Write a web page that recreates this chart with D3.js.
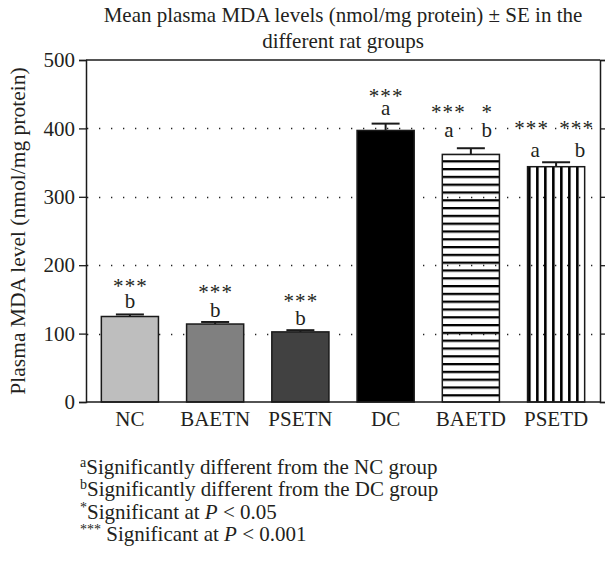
<!DOCTYPE html>
<html>
<head>
<meta charset="utf-8">
<script src="https://cdn.jsdelivr.net/npm/d3@7"></script>
<style>
  html, body { margin: 0; padding: 0; background: #fff; }
  svg { display: block; }
  text { font-family: "Liberation Serif", "Times New Roman", serif; fill: #231f20; }
</style>
</head>
<body>
<svg id="chart" width="605" height="571"></svg>
<script>
// ---------- DATA ----------
const categories = ["NC", "BAETN", "PSETN", "DC", "BAETD", "PSETD"];
const meanValues = [125, 114, 102.5, 397, 362, 344];
const seValues = [3, 3, 2.5, 10, 9, 6.5];
const yTicks = [0, 100, 200, 300, 400, 500];
const gridValues = [100, 200, 300, 400];
// annotation groups per bar: stars row and letter row
const starLabels = [["***"], ["***"], ["***"], ["***"], ["***", "*"], ["***", "***"]];
const letterLabels = [["b"], ["b"], ["b"], ["a"], ["a", "b"], ["a", "b"]];
const titleLines = ["Mean plasma MDA levels (nmol/mg protein) \u00B1 SE in the", "different rat groups"];
const yLabel = "Plasma MDA level (nmol/mg protein)";

// ---------- LAYOUT ----------
const FS = 21;
const svg = d3.select("#chart");
const plot = { left: 86, right: 600, top: 60, bottom: 402 };
const x = d3.scaleBand().domain(categories).range([plot.left, plot.right]).paddingInner(0.33).paddingOuter(0.18);
const y = d3.scaleLinear().domain([0, 500]).range([plot.bottom, plot.top]);

const fills = ["#bebebe", "#808080", "#414141", "#000000", "url(#hpat)", "url(#vpat)"];
const ink = "#1a1a1a";

// annotation layout (pixel offsets relative to the error-bar cap / bar centre)
const annLayout = {
  NC:    { letterUp: 6,  starUp: 32, dxL: [0],        dxS: [0] },
  BAETN: { letterUp: 5,  starUp: 33, dxL: [0],        dxS: [0] },
  PSETN: { letterUp: 5,  starUp: 33, dxL: [0],        dxS: [0] },
  DC:    { letterUp: 9,  starUp: 31, dxL: [0],        dxS: [0] },
  BAETD: { letterUp: 11, starUp: 40, dxL: [-22, 16],  dxS: [-23, 16] },
  PSETD: { letterUp: 5,  starUp: 38, dxL: [-21, 24],  dxS: [-25, 20] }
};

// patterns
const defs = svg.append("defs");
const hp = defs.append("pattern").attr("id", "hpat").attr("patternUnits", "userSpaceOnUse")
  .attr("x", 0).attr("y", plot.bottom).attr("width", 8).attr("height", 7.8);
hp.append("rect").attr("x", 0).attr("y", 0).attr("width", 8).attr("height", 2.3).attr("fill", "#000");
const vp = defs.append("pattern").attr("id", "vpat").attr("patternUnits", "userSpaceOnUse")
  .attr("x", x("PSETD") + 0.5).attr("y", 0).attr("width", 8).attr("height", 8);
vp.append("rect").attr("x", 0).attr("y", 0).attr("width", 2.6).attr("height", 8).attr("fill", "#000");

// gridlines (dotted)
svg.append("g").selectAll("line").data(gridValues).join("line")
  .attr("x1", plot.left + 1).attr("x2", plot.right)
  .attr("y1", d => Math.round(y(d)) + 0.5).attr("y2", d => Math.round(y(d)) + 0.5)
  .attr("stroke", "#222").attr("stroke-width", 1.3).attr("stroke-dasharray", "1.3,10.7");

// bars
svg.append("g").selectAll("rect").data(categories).join("rect")
  .attr("x", d => x(d))
  .attr("y", (d, i) => y(meanValues[i]))
  .attr("width", x.bandwidth())
  .attr("height", (d, i) => y(0) - y(meanValues[i]))
  .attr("fill", (d, i) => fills[i])
  .attr("stroke", ink).attr("stroke-width", 1.5);

// error bars
const eg = svg.append("g").attr("stroke", ink).attr("stroke-width", 2);
categories.forEach((c, i) => {
  const cx = x(c) + x.bandwidth() / 2;
  eg.append("line").attr("x1", cx).attr("x2", cx)
    .attr("y1", y(meanValues[i])).attr("y2", y(meanValues[i] + seValues[i]));
  eg.append("line").attr("x1", cx - 14).attr("x2", cx + 14)
    .attr("y1", y(meanValues[i] + seValues[i])).attr("y2", y(meanValues[i] + seValues[i]));
});

// axes
const yAxis = d3.axisLeft(y).tickValues(yTicks).tickSize(7).tickPadding(4);
const gy = svg.append("g").attr("transform", `translate(${plot.left},0)`).call(yAxis);
gy.select(".domain").attr("stroke", ink).attr("stroke-width", 1.5);
gy.selectAll(".tick line").attr("stroke", ink).attr("stroke-width", 1.3);
gy.selectAll(".tick text").style("font-size", FS + "px").style("font-family", "Liberation Serif").attr("fill", "#231f20");

const yRight = d3.axisRight(y).tickValues(yTicks).tickSize(5).tickFormat("");
const gr = svg.append("g").attr("transform", `translate(${plot.right},0)`).call(yRight);
gr.select(".domain").attr("stroke", ink).attr("stroke-width", 1.5);
gr.selectAll(".tick line").attr("stroke", ink).attr("stroke-width", 1.3);

const xAxis = d3.axisBottom(x).tickSize(0).tickPadding(9);
const gx = svg.append("g").attr("transform", `translate(0,${plot.bottom})`).call(xAxis);
gx.select(".domain").remove();
gx.selectAll(".tick text").style("font-size", FS + "px").style("font-family", "Liberation Serif").attr("fill", "#231f20");
svg.append("line").attr("x1", plot.left).attr("x2", plot.right).attr("y1", plot.bottom).attr("y2", plot.bottom)
  .attr("stroke", ink).attr("stroke-width", 1.5);
svg.append("line").attr("x1", plot.left).attr("x2", plot.right).attr("y1", plot.top).attr("y2", plot.top)
  .attr("stroke", ink).attr("stroke-width", 1.5);

// annotations
const ag = svg.append("g");
categories.forEach((c, i) => {
  const cx = x(c) + x.bandwidth() / 2;
  const capY = y(meanValues[i] + seValues[i]);
  const L = annLayout[c];
  letterLabels[i].forEach((t, j) => {
    ag.append("text").attr("x", cx + L.dxL[j]).attr("y", capY - L.letterUp).attr("text-anchor", "middle")
      .style("font-size", FS + "px").text(t);
  });
  starLabels[i].forEach((t, j) => {
    ag.append("text").attr("x", cx + L.dxS[j] + 0.6).attr("y", capY - L.starUp + 10.5).attr("text-anchor", "middle")
      .style("font-size", FS + "px").style("letter-spacing", "1.2px").text(t);
  });
});

// title
svg.append("g").selectAll("text").data(titleLines).join("text")
  .attr("x", (plot.left + plot.right) / 2).attr("y", (d, i) => 22 + i * 26).attr("text-anchor", "middle")
  .style("font-size", FS + "px").text(d => d);

// y label
svg.append("text").attr("transform", `translate(25,${(plot.top + plot.bottom) / 2}) rotate(-90)`)
  .attr("text-anchor", "middle").style("font-size", "21.5px").text(yLabel);

// footnotes
const fn = svg.append("g").style("font-size", FS + "px");
const notes = [
  { sup: "a", parts: [["Significantly different from the NC group", false]] },
  { sup: "b", parts: [["Significantly different from the DC group", false]] },
  { sup: "*", parts: [["Significant at ", false], ["P", true], [" < 0.05", false]] },
  { sup: "***", parts: [[" Significant at ", false], ["P", true], [" < 0.001", false]] }
];
notes.forEach((n, i) => {
  const t = fn.append("text").attr("x", 80).attr("y", 474 + i * 22.3);
  t.append("tspan").attr("dy", -7).style("font-size", "14px").text(n.sup);
  n.parts.forEach((p, k) => {
    t.append("tspan").attr("dy", k === 0 ? 7 : 0).style("font-style", p[1] ? "italic" : "normal").text(p[0]);
  });
});
</script>
</body>
</html>
